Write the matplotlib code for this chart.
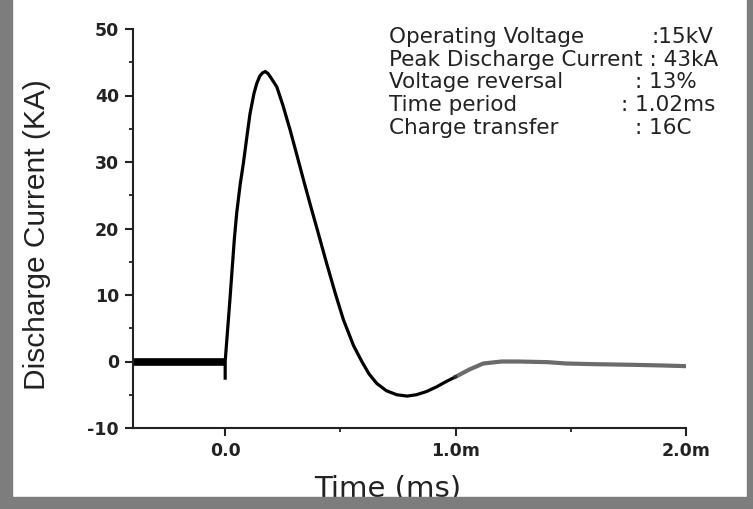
import matplotlib
matplotlib.use("Agg")

import matplotlib.pyplot as plt
from matplotlib.patches import Rectangle
from matplotlib.ticker import MultipleLocator, FixedLocator, FixedFormatter

plt.rcParams["axes.unicode_minus"] = False

# ── data (time in ms, current in kA) ─────────────────────────────────────────
t_pre = [-0.40, -0.20, -0.002]
i_pre = [0.0, 0.0, 0.0]

t_main = [0.0, 0.0, 0.02, 0.04, 0.05, 0.065, 0.079, 0.095, 0.108, 0.125, 0.137,
          0.15, 0.162, 0.174, 0.186, 0.20, 0.224, 0.25, 0.282, 0.31, 0.34,
          0.37, 0.40, 0.44, 0.48, 0.513, 0.557, 0.593, 0.625, 0.658, 0.70,
          0.745, 0.79, 0.83, 0.875, 0.918, 0.96, 1.0]
i_main = [-2.5, 0.0, 9.0, 18.5, 22.3, 26.6, 29.8, 34.0, 37.3, 40.3, 41.8,
          42.9, 43.4, 43.6, 43.3, 42.6, 41.3, 38.6, 34.8, 31.2, 27.3,
          23.5, 19.8, 14.8, 10.0, 6.3, 2.4, 0.0, -1.9, -3.3, -4.4,
          -5.0, -5.2, -5.0, -4.5, -3.8, -3.0, -2.3]

t_tail = [1.0, 1.06, 1.12, 1.2, 1.27, 1.4, 1.48, 1.6, 1.77, 1.9, 2.0]
i_tail = [-2.3, -1.2, -0.3, 0.0, 0.0, -0.1, -0.3, -0.4, -0.5, -0.6, -0.7]

x_ticks = [0.0, 1.0, 2.0]
x_labels = ["0.0", "1.0m", "2.0m"]

info_names = ["Operating Voltage", "Peak Discharge Current : 43kA",
              "Voltage reversal", "Time period", "Charge transfer"]
info_values = [":15kV", "", ": 13%", ": 1.02ms", ": 16C"]
info_value_x = [651, None, 635, 621, 635]

W, H = 753, 509
fig = plt.figure(figsize=(W / 100, H / 100), dpi=100)
fig.patch.set_facecolor("white")

# grey frame around the picture (drawn on top, it clips the x label)
frame = "#7d7d7d"
for r in [(0, 0, 12 / W, 1), (747 / W, 0, 6 / W, 1), (0, 0, 1, 12 / H)]:
    fig.add_artist(Rectangle(r[:2], r[2], r[3], transform=fig.transFigure,
                             color=frame, zorder=10))

ax = fig.add_axes([133 / W, 1 - 428 / H, (686 - 133) / W, (428 - 29) / H])
ax.set_facecolor("none")

ax.plot(t_pre, i_pre, color="black", lw=5.5, solid_capstyle="butt")
ax.plot(t_main, i_main, color="black", lw=2.3, solid_joinstyle="round")
ax.plot(t_tail, i_tail, color="#3a3a3a", lw=3.0, alpha=0.75)

ax.set_xlim(-0.4, 2.0)
ax.set_ylim(-10, 50)

for s in ("top", "right"):
    ax.spines[s].set_visible(False)
for s in ("left", "bottom"):
    ax.spines[s].set_linewidth(1.5)
    ax.spines[s].set_color("#222222")

ax.xaxis.set_major_locator(FixedLocator(x_ticks))
ax.xaxis.set_major_formatter(FixedFormatter(x_labels))
ax.xaxis.set_minor_locator(FixedLocator([0.5, 1.5]))
ax.yaxis.set_major_locator(MultipleLocator(10))
ax.yaxis.set_minor_locator(MultipleLocator(5))
ax.tick_params(which="major", direction="out", length=6, width=1.5, color="#222222",
               labelsize=12.5, pad=4)
ax.tick_params(which="minor", direction="out", length=3, width=1.3, color="#222222")
for lab in ax.get_xticklabels() + ax.get_yticklabels():
    lab.set_fontweight("bold")
    lab.set_fontfamily("DejaVu Sans")
    lab.set_color("#222222")

fig.text(37 / W, 1 - 235 / H, "Discharge Current (KA)", rotation=90, ha="center",
         va="center", fontsize=21.5, family="Liberation Sans", color="#222222")
fig.text(388 / W, 1 - 489 / H, "Time (ms)", ha="center", va="center",
         fontsize=21, family="DejaVu Sans", color="#222222")

for k, (name, val, vx) in enumerate(zip(info_names, info_values, info_value_x)):
    y = 1 - (37 + 22.7 * k) / H
    fig.text(389 / W, y, name, ha="left", va="center", fontsize=15.5,
             family="DejaVu Sans", color="#222222")
    if val:
        fig.text(vx / W, y, val, ha="left", va="center", fontsize=15.5,
                 family="DejaVu Sans", color="#222222")

fig.savefig("out.png", dpi=100)
